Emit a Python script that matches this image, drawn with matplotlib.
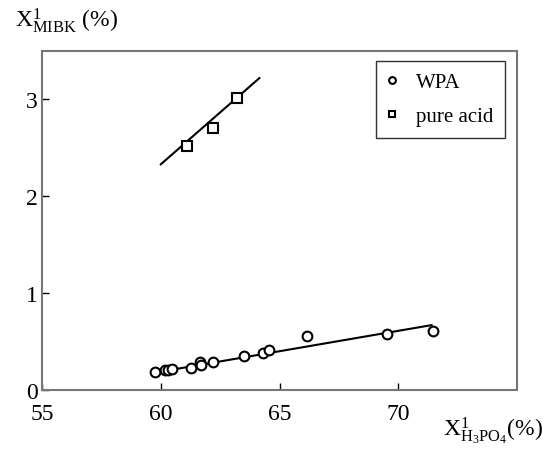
import matplotlib
matplotlib.use("Agg")
import matplotlib.pyplot as plt

plt.rcParams['font.family'] = ['Liberation Serif', 'DejaVu Serif']
plt.rcParams['mathtext.fontset'] = 'custom'
plt.rcParams['mathtext.rm'] = 'Liberation Serif'
plt.rcParams['mathtext.it'] = 'Liberation Serif:italic'

# WPA extraction data
wpa_x = [59.76, 60.18, 60.32, 60.46, 61.26, 61.65, 61.68, 62.19, 63.5, 64.29, 64.57, 66.17, 69.51, 71.45]
wpa_y = [0.19, 0.206, 0.206, 0.216, 0.23, 0.285, 0.254, 0.285, 0.347, 0.385, 0.415, 0.557, 0.58, 0.61]
wpa_fit_x = [60.0, 71.4]
wpa_fit_y = [0.19, 0.67]

# pure phosphoric acid
pure_x = [61.09, 62.19, 63.22]
pure_y = [2.52, 2.71, 3.01]
pure_fit_x = [60.0, 64.15]
pure_fit_y = [2.33, 3.22]

xticks = [55, 60, 65, 70]
yticks = [0, 1, 2, 3]

fig = plt.figure(figsize=(5.46, 4.56), dpi=100)
ax = fig.add_axes([0.077, 0.1425, 0.870, 0.7435])

ax.plot(wpa_fit_x, wpa_fit_y, color='black', lw=1.5)
ax.plot(pure_fit_x, pure_fit_y, color='black', lw=1.5)
ax.plot(wpa_x, wpa_y, 'o', ms=7, mfc='white', mec='black', mew=1.5, label='WPA')
ax.plot(pure_x, pure_y, 's', ms=7, mfc='white', mec='black', mew=1.5, label='pure acid')

ax.set_xlim(55, 75)
ax.set_ylim(0, 3.5)
ax.set_xticks(xticks)
ax.set_yticks(yticks)
ax.tick_params(direction='in', length=5, width=1, labelsize=17)
ax.tick_params(axis='x', pad=9)
ax.tick_params(axis='y', pad=3)
for s in ax.spines.values():
    s.set_color('#777777')
    s.set_linewidth(1.5)

leg = ax.legend(loc='upper right', fontsize=15, frameon=True, fancybox=False,
                edgecolor='black', handlelength=0.5, handletextpad=0.9,
                borderpad=0.55, labelspacing=0.7, markerscale=0.7,
                borderaxespad=0, bbox_to_anchor=(0.975, 0.97))
leg.get_frame().set_linewidth(1.0)

fig.text(0.027, 0.941, r'$\mathregular{X^1_{MIBK}}$ (%)', fontsize=17, va='baseline')
fig.text(0.812, 0.042, r'$\mathregular{X^1_{H_3PO_4}}$(%)', fontsize=17, va='baseline')

fig.savefig('out.png', dpi=100)
